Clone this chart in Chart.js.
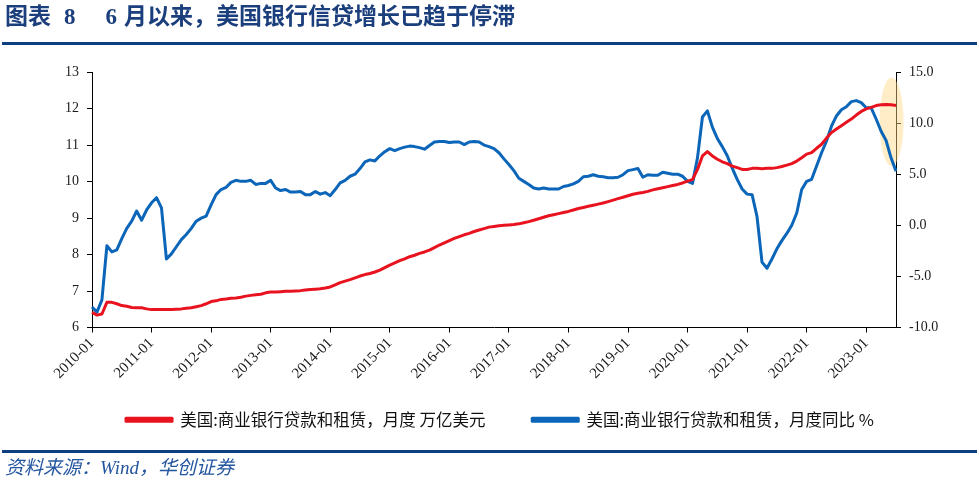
<!DOCTYPE html>
<html>
<head>
<meta charset="utf-8">
<script src="https://cdn.jsdelivr.net/npm/chart.js@4.4.0/dist/chart.umd.min.js"></script>
<style>
  html, body { margin: 0; padding: 0; background: #fff; }
  #page { position: relative; width: 979px; height: 486px; overflow: hidden; }
  #title {
    position: absolute; left: 5px; top: 3px;
    font: bold 23px "Liberation Serif", "Noto Sans CJK SC", serif;
    color: #1b3e7c; line-height: 28px; white-space: nowrap;
  }
  #title .num { margin: 0 30px 0 13px; }
  #title .num2 { margin-right: 7px; }
  #rule-top { position: absolute; left: 2px; right: 2px; top: 42px; height: 3px; background: #0e3f80; }
  #rule-bottom { position: absolute; left: 2px; right: 2px; top: 450px; height: 3px; background: #0e3f80; }
  #source {
    position: absolute; left: 5px; top: 455px;
    font: italic 19px "Liberation Serif", "Noto Sans CJK SC", serif;
    color: #2456a0; line-height: 26px; white-space: nowrap;
  }
  #wrap { position: absolute; left: 0; top: 0; width: 979px; height: 486px; }
</style>
</head>
<body>
<div id="page">
  <div id="wrap"><canvas id="chart"></canvas></div>
  <div id="title">图表<span class="num">8</span><span class="num2">6</span>月以来，美国银行信贷增长已趋于停滞</div>
  <div id="rule-top"></div>
  <div id="rule-bottom"></div>
  <div id="source">资料来源：Wind，华创证券</div>
</div>
<script>
'use strict';

// months 2010-01 .. 2023-07
const MONTHS = [];
for (let y = 2010; y <= 2023; y++) {
  for (let m = 1; m <= 12; m++) {
    if (y === 2023 && m > 7) break;
    MONTHS.push(y + '-' + String(m).padStart(2, '0'));
  }
}

const SERIES_NAMES = ['美国:商业银行贷款和租赁，月度 万亿美元', '美国:商业银行贷款和租赁，月度同比 %'];

// 万亿美元 (left axis)
const LOANS_LEVEL = [
  6.42, 6.34, 6.37, 6.69, 6.69, 6.65, 6.60, 6.58, 6.55, 6.54, 6.54, 6.51,
  6.49, 6.49, 6.49, 6.49, 6.49, 6.50, 6.51, 6.53, 6.54, 6.57, 6.60, 6.65,
  6.71, 6.73, 6.77, 6.78, 6.80, 6.81, 6.83, 6.86, 6.88, 6.90, 6.91, 6.95,
  6.97, 6.97, 6.98, 6.99, 6.99, 7.00, 7.01, 7.03, 7.04, 7.05, 7.06, 7.08,
  7.11, 7.17, 7.23, 7.27, 7.31, 7.36, 7.41, 7.45, 7.48, 7.52, 7.57, 7.64,
  7.71, 7.77, 7.83, 7.88, 7.94, 7.98, 8.03, 8.07, 8.12, 8.19, 8.26, 8.32,
  8.38, 8.44, 8.49, 8.54, 8.58, 8.63, 8.67, 8.71, 8.75, 8.77, 8.79, 8.80,
  8.81, 8.82, 8.84, 8.87, 8.90, 8.94, 8.98, 9.02, 9.06, 9.09, 9.12, 9.15,
  9.18, 9.22, 9.26, 9.29, 9.32, 9.35, 9.38, 9.41, 9.45, 9.49, 9.53, 9.57,
  9.61, 9.65, 9.68, 9.70, 9.73, 9.77, 9.80, 9.83, 9.86, 9.89, 9.92, 9.96,
  10.01, 10.05, 10.33, 10.70, 10.82, 10.70, 10.61, 10.54, 10.49, 10.42, 10.38, 10.33,
  10.33, 10.36, 10.36, 10.35, 10.36, 10.36, 10.38, 10.41, 10.45, 10.49, 10.56, 10.65,
  10.75, 10.79, 10.91, 11.02, 11.19, 11.34, 11.44, 11.53, 11.62, 11.71, 11.82, 11.92,
  11.99, 12.03, 12.08, 12.10, 12.11, 12.10, 12.08
];

// 同比 % (right axis)
const LOANS_YOY = [
  -8.0, -8.5, -7.3, -2.0, -2.6, -2.4, -1.3, -0.3, 0.4, 1.4, 0.5, 1.5,
  2.2, 2.7, 1.7, -3.3, -2.8, -2.1, -1.4, -0.9, -0.3, 0.4, 0.7, 0.9,
  2.0, 3.0, 3.5, 3.7, 4.2, 4.4, 4.3, 4.3, 4.4, 4.0, 4.1, 4.1,
  4.4, 3.65, 3.4, 3.5, 3.25, 3.25, 3.3, 3.0, 3.0, 3.3, 3.05, 3.2,
  2.9, 3.5, 4.15, 4.4, 4.8, 5.0, 5.55, 6.2, 6.4, 6.3, 6.8, 7.2,
  7.5, 7.3, 7.5, 7.65, 7.75, 7.7, 7.6, 7.45, 7.8, 8.15, 8.2, 8.2,
  8.1, 8.15, 8.15, 7.9, 8.15, 8.2, 8.15, 7.85, 7.7, 7.5, 7.1, 6.5,
  5.95, 5.35, 4.6, 4.3, 4.0, 3.65, 3.55, 3.65, 3.55, 3.55, 3.55, 3.8,
  3.9, 4.05, 4.3, 4.75, 4.8, 4.95, 4.8, 4.75, 4.65, 4.65, 4.7, 4.95,
  5.35, 5.45, 5.55, 4.7, 4.95, 4.9, 4.9, 5.2, 5.1, 5.0, 5.0, 4.8,
  4.3, 4.1, 6.6, 10.6, 11.2, 9.6, 8.5, 7.7, 6.8, 5.6, 4.5, 3.55,
  3.05, 3.0, 0.85, -3.6, -4.2, -3.3, -2.3, -1.5, -0.8, 0.0, 1.2, 3.5,
  4.3, 4.5, 5.8, 7.1, 8.25, 9.7, 10.7, 11.3, 11.6, 12.1, 12.2, 12.0,
  11.5, 11.5, 10.4, 9.2, 8.3, 6.6, 5.3
];

const LEFT_TICKS = { min: 6, max: 13, step: 1 };
const RIGHT_TICKS = { min: -10, max: 15, step: 5 };

// soft highlight round the last months of the YoY line
const highlightPlugin = {
  id: 'highlight',
  beforeDatasetsDraw(chart) {
    const x = chart.scales.x, y = chart.scales.y2, ctx = chart.ctx;
    const cx = x.getPixelForValue(MONTHS.length - 1.9);
    const top = y.getPixelForValue(14.45), bottom = y.getPixelForValue(5.8);
    ctx.save();
    ctx.fillStyle = 'rgba(252, 214, 128, 0.45)';
    ctx.beginPath();
    ctx.ellipse(cx, (top + bottom) / 2, 12, (bottom - top) / 2, 0, 0, Math.PI * 2);
    ctx.fill();
    ctx.restore();
  }
};

const axisFont = { family: '"Liberation Serif", "Times New Roman", serif', size: 14 };
const xFont = { family: '"Liberation Serif", "Times New Roman", serif', size: 15 };

new Chart(document.getElementById('chart'), {
  type: 'line',
  data: {
    labels: MONTHS,
    datasets: [
      { label: SERIES_NAMES[0], data: LOANS_LEVEL, yAxisID: 'y', borderColor: '#e8131f', backgroundColor: '#e8131f',
        borderWidth: 3, pointRadius: 0, tension: 0, borderJoinStyle: 'round' },
      { label: SERIES_NAMES[1], data: LOANS_YOY, yAxisID: 'y2', borderColor: '#0b65b8', backgroundColor: '#0b65b8',
        borderWidth: 3, pointRadius: 0, tension: 0, borderJoinStyle: 'round' }
    ]
  },
  options: {
    responsive: true,
    maintainAspectRatio: false,
    animation: false,
    layout: { padding: { top: 72, left: 21, right: 0, bottom: 48 } },
    plugins: {
      tooltip: { enabled: false },
      legend: {
        position: 'bottom',
        labels: {
          boxWidth: 46, boxHeight: 3, padding: 10, color: '#111',
          font: { family: '"Noto Sans CJK SC", sans-serif', size: 16.5 },
          generateLabels(chart) {
            const items = Chart.defaults.plugins.legend.labels.generateLabels(chart);
            // wider gap between the two entries
            items[0].text += '\u3000\u3000 ';
            return items;
          }
        }
      }
    },
    scales: {
      x: {
        type: 'category',
        offset: false,
        afterFit: (s) => { s.height = 74; },
        grid: { drawOnChartArea: false, drawTicks: true, tickLength: 5, color: '#000' },
        border: { display: true, color: '#000', width: 1 },
        ticks: {
          autoSkip: false, maxRotation: 45, minRotation: 45, padding: 2,
          color: '#1a1a1a', font: xFont,
          callback(v) {
            const lab = this.getLabelForValue(v);
            return lab.endsWith('-01') ? lab : null;
          }
        }
      },
      y: {
        position: 'left',
        min: LEFT_TICKS.min, max: LEFT_TICKS.max,
        afterFit: (s) => { s.width = 71; },
        grid: { drawOnChartArea: false, drawTicks: true, tickLength: 5, color: '#000' },
        border: { display: true, color: '#000', width: 1 },
        ticks: { stepSize: LEFT_TICKS.step, padding: 8, color: '#1a1a1a', font: axisFont }
      },
      y2: {
        position: 'right',
        min: RIGHT_TICKS.min, max: RIGHT_TICKS.max,
        afterFit: (s) => { s.width = 83; },
        grid: { drawOnChartArea: false, drawTicks: true, tickLength: 5, color: '#000' },
        border: { display: true, color: '#000', width: 1 },
        ticks: { stepSize: RIGHT_TICKS.step, padding: 8, color: '#1a1a1a', font: axisFont,
          callback: (v) => v.toFixed(1) }
      }
    }
  },
  plugins: [highlightPlugin]
});
</script>
</body>
</html>
